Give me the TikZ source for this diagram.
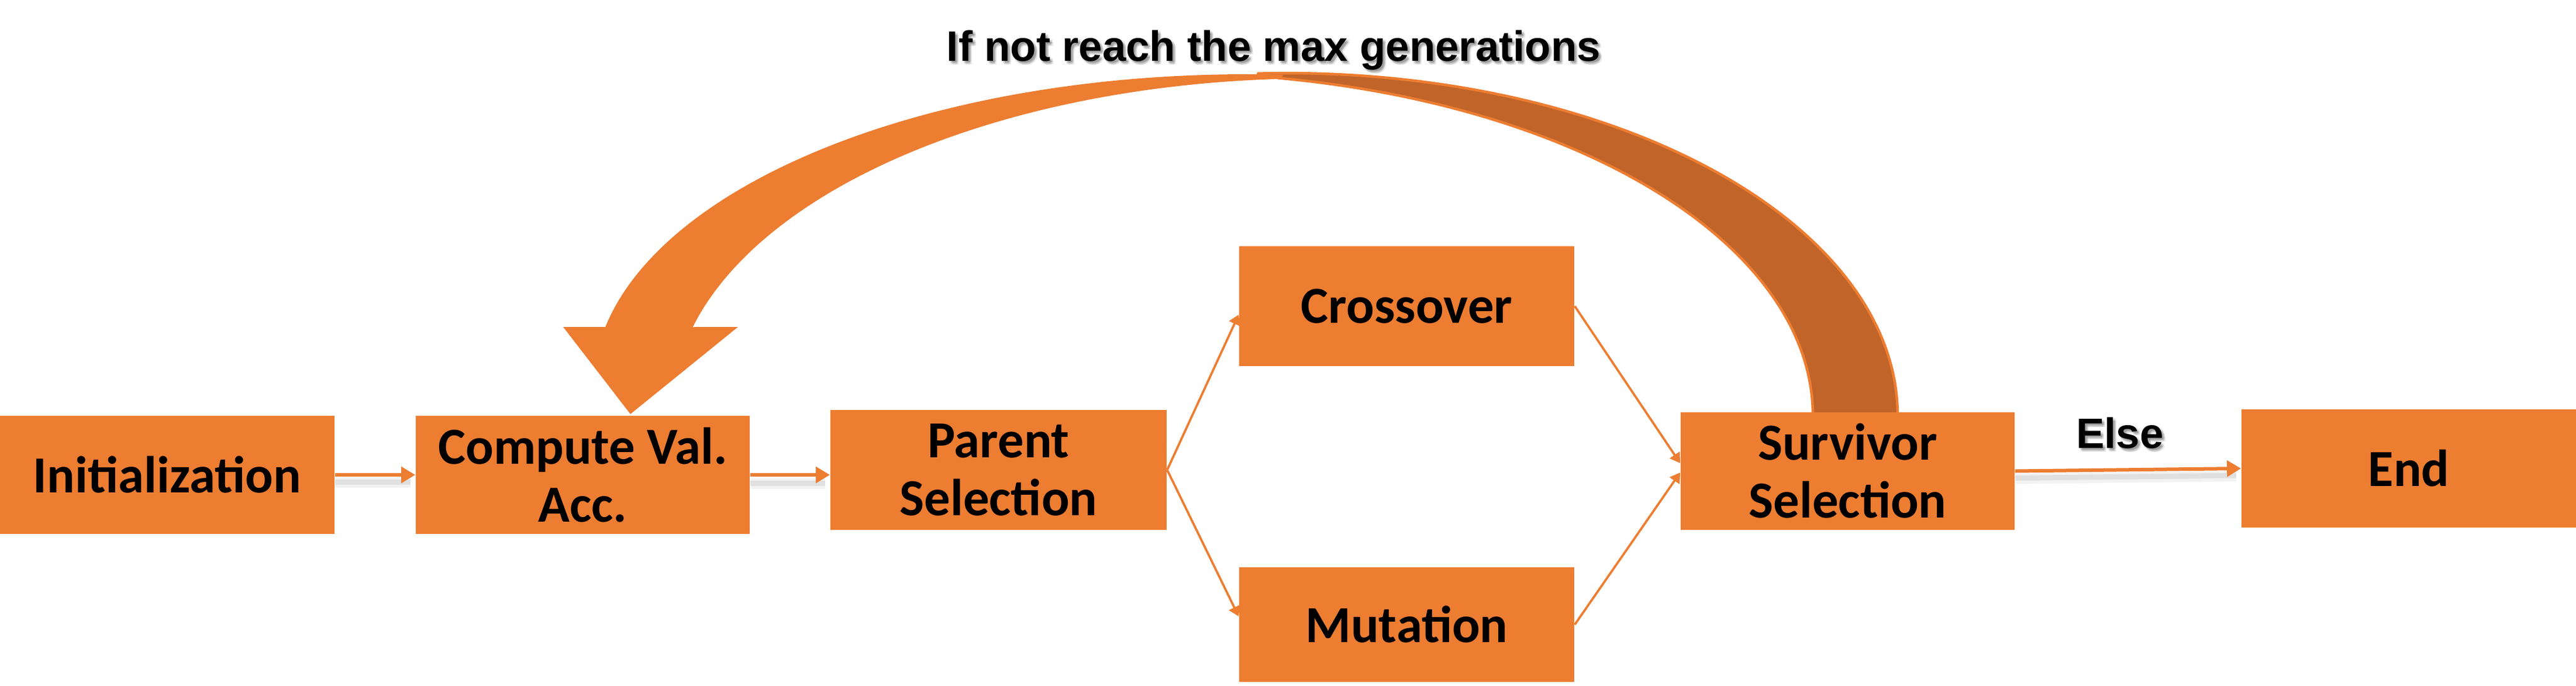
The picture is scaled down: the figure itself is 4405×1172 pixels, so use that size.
\documentclass[tikz,border=0pt]{standalone}
\usepackage{fontspec}
\setmainfont{Carlito}
\newfontfamily\arialf{Liberation Sans}
\usetikzlibrary{arrows.meta,calc}
\definecolor{boxorange}{HTML}{ED7D31}
\definecolor{darkband}{HTML}{C0642A}
\begin{document}
\begin{tikzpicture}[x=0.01cm,y=-0.01cm,
  box/.style={rectangle, fill=boxorange, inner sep=0pt, align=center, text=black,
    font=\bfseries\fontsize{25.3pt}{28.2pt}\selectfont},
  mainarr/.style={draw=boxorange, line width=0.06cm, -{Triangle[length=0.24cm,width=0.27cm]}},
  thinarr/.style={draw=boxorange, line width=0.038cm, -{Triangle[length=0.17cm,width=0.2cm]}},
  lbl/.style={font=\arialf\bfseries\fontsize{20.66pt}{24pt}\selectfont, inner sep=0pt, anchor=base},
  shadA/.style={draw=black, line width=0.18cm, opacity=0.05},
  shadB/.style={draw=black, line width=0.09cm, opacity=0.07}]
\fill[white] (0,0) rectangle (4405,1172);
\useasboundingbox (0,0) rectangle (4405,1172);

% curved feedback arrow: back (dark) band
\filldraw[fill=darkband, draw=boxorange, line width=0.045cm, line join=round]
  plot[domain=92.7:0, samples=80, variable=\t] ({2200+1045*cos(\t)}, {710-585*sin(\t)})
  -- plot[domain=0:80.2, samples=80, variable=\t] ({2000+1100*cos(\t)}, {710-585*sin(\t)})
  -- cycle;
% front (light) band with arrow head
\fill[boxorange] (1078,708) -- (963,559)
  -- plot[domain=169.1:86.7, samples=80, variable=\t] ({2130+1115*cos(\t)}, {660-533*sin(\t)})
  -- plot[domain=93.1:165.6, samples=80, variable=\t] ({2250+1100*cos(\t)}, {700-566*sin(\t)})
  -- (1262,559) -- cycle;

% boxes
\node[box, minimum width=5.72cm, minimum height=2.02cm] (init) at (286,812) {Initialization};
\node[box, minimum width=5.71cm, minimum height=2.02cm] (comp) at (996.5,812) {Compute Val.\\Acc.};
\node[box, minimum width=5.75cm, minimum height=2.05cm] (par) at (1707.5,803.5) {Parent\\Selection};
\node[box, minimum width=5.73cm, minimum height=2.05cm] (cross) at (2405.5,523.5) {Crossover};
\node[box, minimum width=5.73cm, minimum height=1.96cm] (mut) at (2405.5,1068) {Mutation};
\node[box, minimum width=5.71cm, minimum height=2.01cm] (surv) at (3159.5,805.5) {Survivor\\Selection};
\node[box, minimum width=5.72cm, minimum height=2.02cm] (end) at (4119,801) {End};

% shadows of the main connectors
\draw[shadA] ($(init.east)+(0,13)$) -- ($(comp.west)+(-8,13)$);
\draw[shadB] ($(init.east)+(0,12)$) -- ($(comp.west)+(-8,12)$);
\draw[shadA] ($(comp.east)+(0,15)$) -- ($(comp.east -| par.west)+(-8,15)$);
\draw[shadB] ($(comp.east)+(0,14)$) -- ($(comp.east -| par.west)+(-8,14)$);
\draw[shadA] ($(surv.east)+(0,13)$) -- ($(end.west)+(-8,13)$);
\draw[shadB] ($(surv.east)+(0,12)$) -- ($(end.west)+(-8,12)$);

% connectors
\draw[mainarr] (init.east) -- (comp.west);
\draw[mainarr] (comp.east) -- (comp.east -| par.west);
\draw[thinarr] (par.east) -- ($(cross.west)+(0,14.5)$);
\draw[thinarr] (par.east) -- ($(mut.west)+(0,-14)$);
\draw[thinarr] (cross.east) -- ($(surv.west)+(0,-13.5)$);
\draw[thinarr] (mut.east) -- ($(surv.west)+(0,2.5)$);
\draw[mainarr] (surv.east) -- (end.west);

% labels with soft shadow
\foreach \dx/\dy [count=\i] in {2/3,4/4,3/6,5/2,6/6} {
  \node[lbl, text=black, opacity=0.09] (tsh\i) at (2178+\dx,104+\dy) {If not reach the max generations};
  \node[lbl, text=black, opacity=0.09] (esh\i) at (3625+\dx,766+\dy) {Else};
}
\node[lbl] (toplabel) at (2178,104) {If not reach the max generations};
\node[lbl] (elselabel) at (3625,766) {Else};
\end{tikzpicture}
\end{document}
